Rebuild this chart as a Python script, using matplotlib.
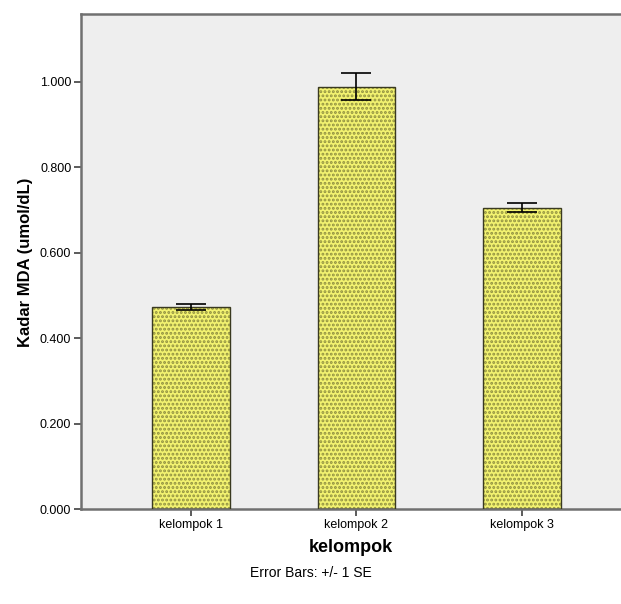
import matplotlib.pyplot as plt
import numpy as np

plt.rcParams['font.family'] = ['Liberation Sans', 'DejaVu Sans']
plt.rcParams['hatch.linewidth'] = 1.4

# data
groups = ['kelompok 1', 'kelompok 2', 'kelompok 3']
mda = [0.474, 0.988, 0.705]
se = [0.007, 0.031, 0.011]
yticks = [0.0, 0.2, 0.4, 0.6, 0.8, 1.0]

fig = plt.figure(figsize=(6.21, 6.04), dpi=100)
ax = fig.add_axes([0.1304, 0.157, 0.87, 0.819])
ax.set_facecolor('#eeeeee')

x = np.arange(len(groups))
# dotted fill first, then outline on top
ax.bar(x, mda, width=0.47, color='#f2f270', edgecolor='#8f8f40', hatch='....', linewidth=0, zorder=2)
ax.bar(x, mda, width=0.47, fill=False, edgecolor='#3a3a20', linewidth=1.0, zorder=3)
ax.errorbar(x, mda, yerr=se, fmt='none', ecolor='black', elinewidth=1.2, capsize=10.5, capthick=1.2, zorder=4)

ax.set_xlim(-0.665, 2.6)
ax.set_ylim(0, 1.157)
ax.set_xticks(x)
ax.set_xticklabels(groups, fontsize=9)
ax.set_yticks(yticks)
ax.set_yticklabels(['%.3f' % v for v in yticks], fontsize=9)
ax.tick_params(length=5, width=1.2, color='#404040', direction='out', pad=2)

for s in ['top', 'left', 'bottom']:
    ax.spines[s].set_color('#707070')
    ax.spines[s].set_linewidth(1.8)
ax.spines['right'].set_visible(False)

ax.set_ylabel('Kadar MDA (umol/dL)', fontsize=12, fontweight='bold', labelpad=5)
ax.set_xlabel('kelompok', fontsize=13, fontweight='bold', labelpad=6)
fig.text(0.5, 0.052, 'Error Bars: +/- 1 SE', ha='center', va='center', fontsize=10)

fig.savefig('out.png', dpi=100)
